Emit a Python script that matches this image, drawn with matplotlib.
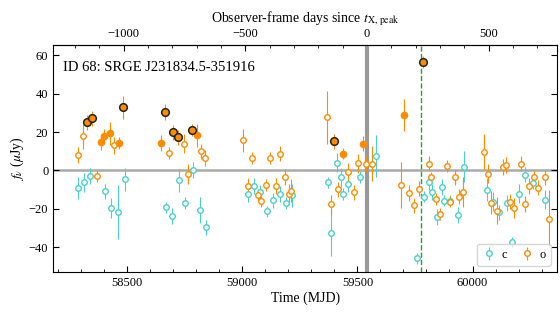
import numpy as np
import matplotlib.pyplot as plt
from matplotlib.ticker import MultipleLocator, FixedLocator

plt.rcParams['font.family'] = ['Liberation Serif', 'DejaVu Serif']
plt.rcParams['mathtext.fontset'] = 'stix'

# ATLAS c band (all open)
c_mjd = [58287, 58313, 58339, 58404, 58430, 58461, 58489, 58670, 58696, 58726,
         58752, 58784, 58817, 58842, 59026, 59052, 59078, 59109, 59135, 59165,
         59191, 59217, 59374, 59383, 59413, 59430, 59439, 59461, 59513, 59581,
         59759, 59790, 59812, 59825, 59847, 59869, 59878, 59904, 59935, 59961,
         60062, 60088, 60114, 60149, 60171, 60202, 60230, 60264, 60317]
c_flux = [-9.2, -6.3, -3.0, -11.0, -19.6, -21.7, -4.5, -19.3, -23.8, -5.2,
          -17.0, 0.2, -20.7, -29.7, -12.3, -8.2, -11.5, -21.4, -15.6, -12.3,
          -17.0, -12.9, -6.3, -32.8, 4.1, -3.5, -12.3, -7.3, -3.5, 7.7,
          -45.9, -13.7, -6.0, -11.2, -24.4, -8.6, -15.8, -15.8, -23.2, 1.9,
          -10.0, -16.3, -21.8, -17.0, -37.6, -12.1, -2.3, -6.5, -15.3]
c_err = [5.5, 5, 4, 4, 5, 14, 6, 3, 4, 6,
         3, 4, 7, 4, 4, 4, 4, 3, 4, 4,
         3, 6, 3, 12, 5, 5, 3, 4, 3, 11,
         3, 3, 4, 4, 4, 4, 3, 3, 4, 8,
         6, 5, 4, 4, 3, 5, 4, 3, 5]

# ATLAS o band, non-detections (open)
o_mjd = [58284, 58309, 58367, 58443, 58683, 58748, 58765, 58822, 58838, 59004,
         59023, 59043, 59067, 59083, 59104, 59122, 59145, 59165, 59187, 59204,
         59213, 59367, 59383, 59417, 59461, 59487, 59504, 59539, 59563, 59689,
         59724, 59746, 59768, 59809, 59821, 59843, 59860, 59887, 59904, 59922,
         59943, 59957, 60049, 60066, 60080, 60106, 60133, 60146, 60163, 60181,
         60212, 60230, 60247, 60269, 60286, 60313, 60334]
o_flux = [8.0, 17.7, -3.0, 13.0, 9.0, 14.0, -1.9, 9.9, 6.4, 15.8,
          -8.2, 6.4, -12.7, -16.2, -7.7, 6.4, -8.2, 8.8, -3.5, -12.3,
          -10.6, 27.6, -17.6, -9.9, -1.1, -11.5, 3.6, 3.1, 3.5, -7.4,
          -11.8, -18.2, -9.6, 3.5, -3.7, -14.9, -22.8, 2.4, -16.3, -3.7,
          -13.7, -11.2, 9.8, -1.8, -17.0, -21.0, 1.7, 2.8, -16.3, -19.6,
          3.5, -17.5, -8.1, -3.3, -9.0, -3.7, -25.4]
o_err = [4, 6.5, 3, 4.3, 3, 5, 5, 4, 4, 6,
         4, 3, 3, 3, 3, 3, 4, 4, 4, 5,
         6, 14, 5, 4, 5, 4, 5, 4, 9, 12,
         4, 4, 4, 4, 3, 3, 3, 3, 3, 4,
         4, 8, 9, 5, 6, 7, 4, 4, 4, 5,
         4, 4, 4, 3, 4, 4, 15]

# o band detections (filled)
od_mjd = [58387, 58400, 58426, 58465, 58648, 58804, 59439, 59522, 59702]
od_flux = [14.7, 17.7, 19.4, 14.2, 14.2, 18.4, 8.8, 14.0, 28.8]
od_err = [4, 4, 6, 3, 4, 6, 3, 4, 8.5]

# o band strong detections (filled, black edge)
os_mjd = [58326, 58348, 58481, 58665, 58700, 58722, 58783, 59400, 59786]
os_flux = [25.0, 27.2, 32.8, 30.4, 19.8, 17.2, 21.0, 15.1, 56.6]
os_err = [4, 4, 6, 4, 4, 4, 3, 4, 3]

t_peak = 59541
t_green = 59778
zscale = 1.057

cyan = '#48D1CC'
orange = '#FF8C00'

fig = plt.figure(figsize=(5.6, 3.2), dpi=100)
ax = fig.add_axes([0.095, 0.15, 0.9, 0.71])

ax.axhline(0, color='#aaaaaa', lw=1.8, zorder=1)
ax.axvline(t_peak, color='#999999', lw=3, zorder=1)
ax.axvline(t_green, color='#2ca02c', lw=1, ls='--', zorder=1)

ax.errorbar(c_mjd, c_flux, yerr=c_err, fmt='o', ms=4, mfc='white', mec=cyan,
            mew=1, ecolor=cyan, elinewidth=0.8, color=cyan, label='c', zorder=3)
ax.errorbar(o_mjd, o_flux, yerr=o_err, fmt='o', ms=4, mfc='white', mec=orange,
            mew=1, ecolor=orange, elinewidth=0.8, color=orange, label='o', zorder=3)
ax.errorbar(od_mjd, od_flux, yerr=od_err, fmt='o', ms=4.5, mfc=orange, mec=orange,
            ecolor=orange, elinewidth=0.8, zorder=4)
ax.errorbar(os_mjd, os_flux, yerr=os_err, fmt='o', ms=5.5, mfc=orange, mec='#222222',
            mew=1.1, ecolor=orange, elinewidth=0.8, zorder=5)

ax.set_xlim(58178, 60368)
ax.set_ylim(-53, 65.5)
ax.xaxis.set_major_locator(MultipleLocator(500))
ax.xaxis.set_minor_locator(MultipleLocator(100))
ax.yaxis.set_major_locator(MultipleLocator(20))
ax.tick_params(which='both', direction='in', right=True, labelsize=9)
ax.tick_params(which='major', length=4)
ax.tick_params(which='minor', length=2)
ax.set_xlabel('Time (MJD)', fontsize=10, labelpad=2)
ax.set_ylabel(r'$f_\nu$ ($\mu$Jy)', fontsize=10, labelpad=2)

ax.text(0.02, 0.93, 'ID 68: SRGE J231834.5-351916', transform=ax.transAxes,
        fontsize=10.5, va='top', ha='left')

top = ax.secondary_xaxis('top', functions=(lambda m: (m - t_peak) / zscale,
                                          lambda d: d * zscale + t_peak))
top.xaxis.set_major_locator(FixedLocator([-1000, -500, 0, 500]))
top.xaxis.set_minor_locator(FixedLocator(np.arange(-1200, 801, 100)))
top.tick_params(which='both', direction='in', labelsize=9)
top.tick_params(which='major', length=4)
top.tick_params(which='minor', length=2)
top.set_xlabel(r'Observer-frame days since $t_{\rm X,\,peak}$', fontsize=10, labelpad=4)

leg = ax.legend(loc='lower right', ncol=2, fontsize=9, handletextpad=0.4,
                columnspacing=1.0, handlelength=1.2, borderpad=0.4)
leg.get_frame().set_edgecolor('#cccccc')

fig.savefig('out.png', dpi=100)
